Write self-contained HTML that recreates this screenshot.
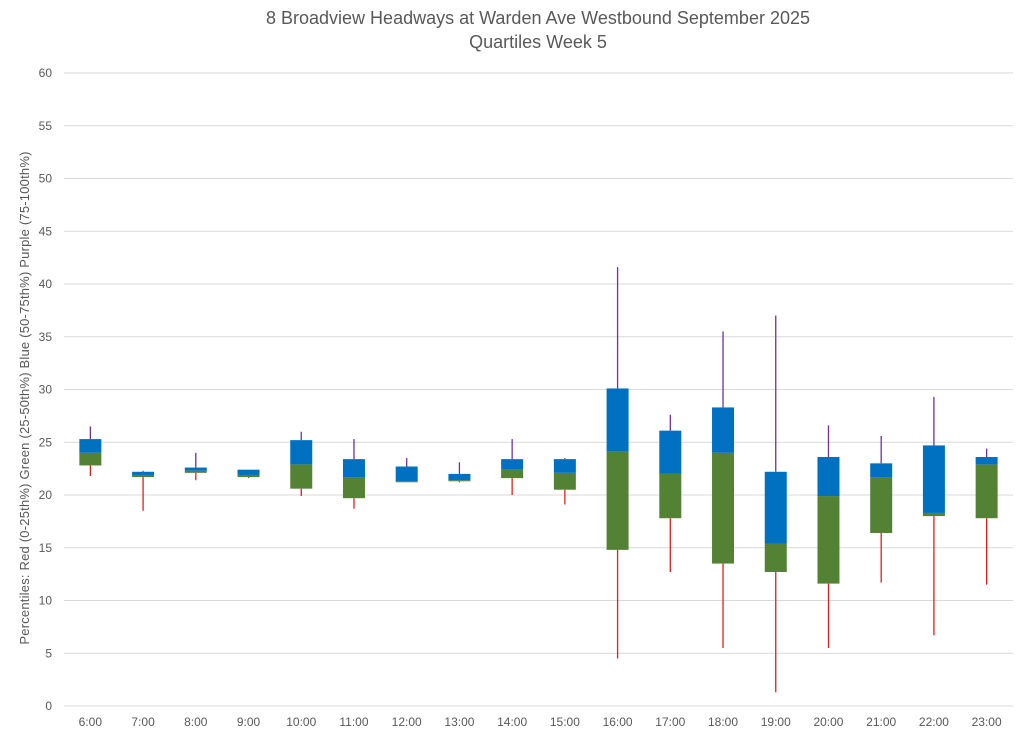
<!DOCTYPE html>
<html><head><meta charset="utf-8"><style>
body{margin:0;background:#fff;font-family:"Liberation Sans",sans-serif;}
</style></head><body>
<svg id="chart" width="1024" height="735" xmlns="http://www.w3.org/2000/svg">
<text x="538" y="24" text-anchor="middle" font-size="18" fill="#595959">8 Broadview Headways at Warden Ave Westbound September 2025</text>
<text x="538" y="48" text-anchor="middle" font-size="18" fill="#595959">Quartiles Week 5</text>
<text transform="translate(29,398) rotate(-90)" text-anchor="middle" font-size="13" letter-spacing="0.2" fill="#595959">Percentiles:  Red (0-25th%)  Green (25-50th%)  Blue (50-75th%)  Purple (75-100th%)</text>
<g id="grid"></g><g id="marks"></g><g id="labels"></g>
</svg>
<script>
const categories=["6:00","7:00","8:00","9:00","10:00","11:00","12:00","13:00","14:00","15:00","16:00","17:00","18:00","19:00","20:00","21:00","22:00","23:00"];
const minVals=[21.8,18.5,21.4,21.6,19.9,18.7,21.3,21.2,20.0,19.1,4.5,12.7,5.5,1.3,5.5,11.7,6.7,11.5];
const q1Vals=[22.8,21.7,22.1,21.7,20.6,19.7,21.3,21.3,21.6,20.5,14.8,17.8,13.5,12.7,11.6,16.4,18.0,17.8];
const medVals=[24.0,21.9,22.3,21.9,22.9,21.7,21.3,21.4,22.4,22.1,24.1,22.0,24.0,15.4,19.9,21.7,18.3,22.9];
const q3Vals=[25.3,22.2,22.6,22.4,25.2,23.4,22.7,22.0,23.4,23.4,30.1,26.1,28.3,22.2,23.6,23.0,24.7,23.6];
const maxVals=[26.5,22.3,24.0,22.4,26.0,25.3,23.5,23.1,25.3,23.5,41.6,27.6,35.5,37.0,26.6,25.6,29.3,24.4];
const yTicks=[0,5,10,15,20,25,30,35,40,45,50,55,60];
const NS="http://www.w3.org/2000/svg";
const x0=64,x1=1013,y0=706,yTop=73;
const band=(x1-x0)/categories.length;
const xC=i=>x0+band*(i+0.5);
const yS=v=>y0-(v/60)*(y0-yTop);
function mk(t,a,p){const e=document.createElementNS(NS,t);for(const k in a)e.setAttribute(k,a[k]);p.appendChild(e);return e;}
const grid=document.getElementById('grid'),marks=document.getElementById('marks'),labels=document.getElementById('labels');
yTicks.forEach(t=>{
 const l=mk('line',{x1:x0,x2:x1,y1:yS(t),y2:yS(t),stroke:'#d9d9d9','stroke-width':1},grid);
 
 
 const tx=mk('text',{x:52,y:yS(t)+4,'text-anchor':'end','font-size':12,fill:'#595959'},labels);
 tx.textContent=t;
 
 
});
const w=22;
categories.forEach((c,i)=>{
 const x=xC(i);
 const lw=mk('line',{x1:x,x2:x,y1:yS(minVals[i]),y2:yS(q1Vals[i]),stroke:'#e0201c','stroke-width':1.3},marks);
 
 
 const hw=mk('line',{x1:x,x2:x,y1:yS(maxVals[i]),y2:yS(q3Vals[i]),stroke:'#7030a0','stroke-width':1.3},marks);
 
 
 const g=mk('rect',{x:x-w/2,y:yS(medVals[i]),width:w,height:Math.max(1,yS(q1Vals[i])-yS(medVals[i])),fill:'#548235'},marks);
 
 
 const b=mk('rect',{x:x-w/2,y:yS(q3Vals[i]),width:w,height:Math.max(1,yS(medVals[i])-yS(q3Vals[i])),fill:'#0070c0'},marks);
 
 
 const tx=mk('text',{x:x,y:726,'text-anchor':'middle','font-size':12,fill:'#595959'},labels);
 tx.textContent=c;
 
 
});
</script>
</body></html>
